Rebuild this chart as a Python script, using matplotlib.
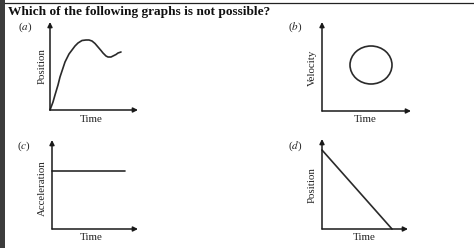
import matplotlib.pyplot as plt
from matplotlib.patches import Ellipse

plt.rcParams.update({
    "font.family": ["Liberation Serif", "DejaVu Serif"],
    "mathtext.fontset": "stix",
})

W, H = 474, 248

# graph (a): position vs time, rises, peaks, dips, rises again
a_time = [0, 3, 5, 8, 10, 13, 15, 19, 22, 25, 28, 32, 36, 39, 42, 45, 48, 51, 53, 56, 58, 61, 63, 66, 68, 71]
a_pos = [0, 8, 15, 25, 33, 42, 48, 56, 60, 64, 67, 69.5, 70, 70, 69, 66.5, 63, 59.5, 57, 54, 53, 53, 54, 55.5, 57, 58]

# graph (b): velocity vs time, a closed circle
b_center = (49, 46)
b_size = (42, 38)

# graph (c): constant acceleration
c_time = [0, 73]
c_acc = [58, 58]

# graph (d): position falling linearly
d_time = [0, 70]
d_pos = [79, 0]

panel_tags = ["(a)", "(b)", "(c)", "(d)"]
y_labels = ["Position", "Velocity", "Acceleration", "Position"]
x_label = "Time"

fig = plt.figure(figsize=(W / 100, H / 100), dpi=100)
fig.patch.set_facecolor("white")


def px(x, y):
    return x / W, 1 - y / H


# frame: dark strip on the left and rule on top
frame = fig.add_axes([0, 0, 1, 1])
frame.set_xlim(0, W)
frame.set_ylim(H, 0)
frame.axis("off")
frame.axvspan(0, 5, color="#3c3c3c", lw=0)
frame.plot([5, W], [3.3, 3.3], color="#222222", lw=0.9)

fig.text(*px(8, 11.5), "Which of the following graphs is not possible?",
         fontsize=9.6, fontweight="bold", ha="left", va="center", color="#111111")

# (origin x, origin y, x-arrow tip, y-arrow tip) in pixels
boxes = [
    (50, 110, 138, 22),
    (322, 111, 411, 22),
    (52, 229, 138, 140),
    (322, 229, 408, 139),
]
tag_pos = [(25, 27), (295, 27), (24, 146), (295, 146)]
ylab_pos = [(42, 66), (312, 68), (42, 188), (312, 185)]
xlab_pos = [(91, 119), (365, 119), (91, 237), (364, 237)]

axes = []
for (x0, y0, x1, y1) in boxes:
    l, b = px(x0, y0)
    ax = fig.add_axes([l, b, (x1 - x0) / W, (y0 - y1) / H])
    ax.set_xlim(0, x1 - x0)
    ax.set_ylim(0, y0 - y1)
    ax.axis("off")
    arrow = dict(arrowstyle="-|>", lw=1.1, color="#1a1a1a", mutation_scale=7,
                 shrinkA=0, shrinkB=0)
    ax.annotate("", xy=(1, 0), xytext=(0, 0), xycoords="axes fraction",
                arrowprops=arrow)
    ax.annotate("", xy=(0, 1), xytext=(0, 0), xycoords="axes fraction",
                arrowprops=arrow)
    axes.append(ax)

line_kw = dict(color="#2a2a2a", lw=1.2, solid_capstyle="round")
axes[0].plot(a_time, a_pos, **line_kw)
axes[1].add_patch(Ellipse(b_center, *b_size, fill=False, ec="#2a2a2a", lw=1.2))
axes[2].plot(c_time, c_acc, **line_kw)
axes[3].plot(d_time, d_pos, **line_kw)
for ax in axes:
    for ln in ax.lines:
        ln.set_clip_on(False)

for i in range(4):
    tag = panel_tags[i]
    fig.text(*px(*tag_pos[i]), "(" + "$" + tag[1] + "$" + ")", fontsize=8,
             ha="center", va="center", color="#222222")
    fig.text(*px(*ylab_pos[i]), y_labels[i], fontsize=7.8, rotation=90,
             ha="center", va="center", color="#222222")
    fig.text(*px(*xlab_pos[i]), x_label, fontsize=7.9,
             ha="center", va="center", color="#222222")

fig.savefig("out.png", dpi=100)
